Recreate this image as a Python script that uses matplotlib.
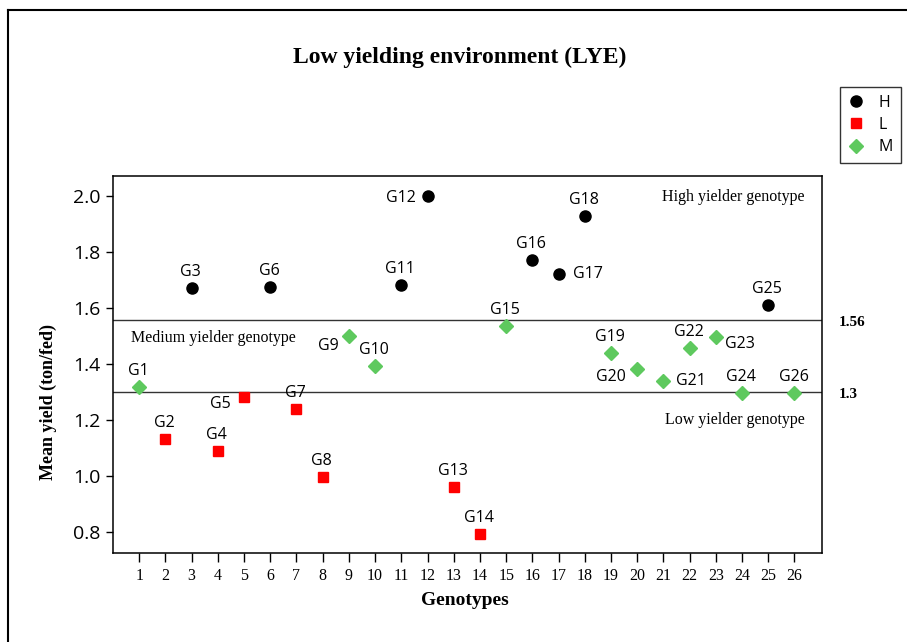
import matplotlib
matplotlib.use("Agg")
import matplotlib.pyplot as plt
from matplotlib.lines import Line2D

# genotype number, mean yield (ton/fed) and yield group
genotypes = list(range(1, 27))
mean_yield = [1.318, 1.133, 1.672, 1.092, 1.282, 1.678, 1.241, 0.996, 1.503, 1.395,
              1.684, 2.003, 0.961, 0.794, 1.537, 1.773, 1.723, 1.931, 1.442, 1.383,
              1.342, 1.460, 1.497, 1.299, 1.612, 1.296]
groups = ["M", "L", "H", "L", "L", "H", "L", "L", "M", "M",
          "H", "H", "L", "L", "M", "H", "H", "H", "M", "M",
          "M", "M", "M", "M", "H", "M"]
high_limit = 1.56
low_limit = 1.3

# label placement (offset in pixels from the marker, horizontal alignment)
label_pos = {
    5: (-24, -7, "center"), 9: (-21, -10, "center"), 12: (-12, -2, "right"),
    17: (14, 0, "left"), 20: (-26, -8, "center"), 21: (13, 0, "left"),
    23: (9, -7, "left"),
}

styles = {
    "H": dict(marker="o", color="black", ms=8),
    "L": dict(marker="s", color="#ff0000", ms=7.6),
    "M": dict(marker="D", color="#5ec95e", ms=6.8),
}

sans = "Open Sans"
serif = "Liberation Serif"

fig = plt.figure(figsize=(9.07, 6.42), dpi=100)
ax = fig.add_axes([113 / 907, 89 / 642, 709 / 907, 377 / 642])

for g in ["H", "L", "M"]:
    xs = [x for x, grp in zip(genotypes, groups) if grp == g]
    ys = [y for y, grp in zip(mean_yield, groups) if grp == g]
    st = styles[g]
    ax.plot(xs, ys, linestyle="none", marker=st["marker"], color=st["color"],
            ms=st["ms"], mec=st["color"], label=g, zorder=3)

for x, y in zip(genotypes, mean_yield):
    dx, dy, ha = label_pos.get(x, (-1, 16, "center"))
    ax.annotate(f"G{x}", (x, y), xytext=(dx, dy), textcoords="offset pixels",
                ha=ha, va="center", fontsize=11.5, family=sans)

ax.axhline(high_limit, color="#333333", lw=1.0, zorder=1)
ax.axhline(low_limit, color="#333333", lw=1.0, zorder=1)

ax.text(0.975, 0.945, "High yielder genotype", transform=ax.transAxes, ha="right",
        va="center", fontsize=11.5, family=serif)
ax.text(0.025, 0.57, "Medium yielder genotype", transform=ax.transAxes, ha="left",
        va="center", fontsize=11.5, family=serif)
ax.text(0.975, 0.353, "Low yielder genotype", transform=ax.transAxes, ha="right",
        va="center", fontsize=11.5, family=serif)

ax.annotate("1.56", (1.023, high_limit), xycoords=ax.get_yaxis_transform(),
            xytext=(0, -3), textcoords="offset pixels", ha="left", va="center",
            fontsize=11, family=serif, fontweight="bold")
ax.annotate("1.3", (1.023, low_limit), xycoords=ax.get_yaxis_transform(),
            xytext=(0, -2), textcoords="offset pixels", ha="left", va="center",
            fontsize=11, family=serif, fontweight="bold")

ax.set_xlim(0, 27.05)
ax.set_ylim(0.726, 2.073)
ax.set_xticks(genotypes)
ax.set_yticks([0.8, 1.0, 1.2, 1.4, 1.6, 1.8, 2.0])
ax.set_yticklabels([f"{v:.1f}" for v in [0.8, 1.0, 1.2, 1.4, 1.6, 1.8, 2.0]])
for lab in ax.get_xticklabels():
    lab.set_family(serif)
    lab.set_fontsize(11.5)
for lab in ax.get_yticklabels():
    lab.set_family(sans)
    lab.set_fontsize(14)
ax.tick_params(axis="x", length=6.5, width=1, pad=4)
ax.tick_params(axis="y", length=5, width=1, pad=4)
for s in ax.spines.values():
    s.set_linewidth(1.1)

ax.set_xlabel("Genotypes", family=serif, fontweight="bold", fontsize=14, va="center")
ax.xaxis.set_label_coords(0.4965, -0.1265)
ax.set_ylabel("Mean yield (ton/fed)", family=serif, fontweight="bold", fontsize=13,
              va="center")
ax.yaxis.set_label_coords(-0.0917, 0.40)

fig.text(460 / 907, 1 - 57 / 642, "Low yielding environment (LYE)", ha="center",
         va="center", family=serif, fontweight="bold", fontsize=17)

leg = fig.legend(loc="upper left", bbox_to_anchor=(840 / 907, 1 - 87 / 642),
                 frameon=True, fancybox=False, edgecolor="black",
                 prop={"family": sans, "size": 11.5}, handlelength=1.0,
                 handletextpad=0.9, labelspacing=0.38, borderpad=0.5,
                 borderaxespad=0)
leg.get_frame().set_linewidth(1.0)

# outer frame (only top and left edges fall inside the picture)
fig.add_artist(Line2D([8 / 907, 8 / 907], [1 - 10 / 642, 0], transform=fig.transFigure,
                      color="black", lw=1.5))
fig.add_artist(Line2D([8 / 907, 1], [1 - 10 / 642, 1 - 10 / 642],
                      transform=fig.transFigure, color="black", lw=1.5))

fig.savefig("out.png", dpi=100)
